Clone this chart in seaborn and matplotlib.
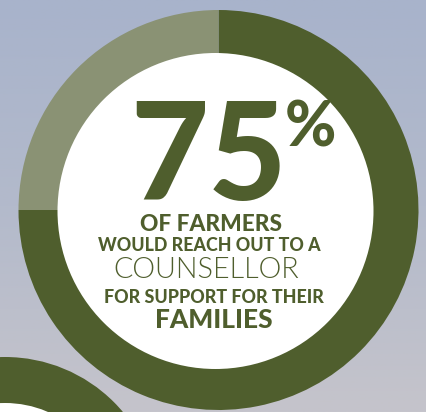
import numpy as np
import matplotlib
matplotlib.use("Agg")
import matplotlib.pyplot as plt
from matplotlib.patches import Circle
from matplotlib.colors import LinearSegmentedColormap
import seaborn as sns

# Share of farmers who would reach out to a counsellor
labels = ["Would reach out", "Would not"]
shares = [75, 25]
headline = "75"
caption_lines = ["OF FARMERS", "WOULD REACH OUT TO A", "COUNSELLOR",
                 "FOR SUPPORT FOR THEIR", "FAMILIES"]

sns.set_theme(style="white")
plt.rcParams["font.family"] = ["Lato", "DejaVu Sans"]

DARK = "#4f5e2d"
LIGHT = "#8a9274"

W, H = 427, 412
fig = plt.figure(figsize=(W / 100, H / 100), dpi=100)
ax = fig.add_axes([0, 0, 1, 1])

# sky-like vertical background gradient
sky = LinearSegmentedColormap.from_list("sky", ["#c5c4cb", "#b3bacb", "#a8b3cb"])
grad = np.linspace(0, 1, 256).reshape(-1, 1)
ax.imshow(grad, cmap=sky, extent=(0, W, 0, H), origin="lower", aspect="auto", zorder=0)

# partial ring peeking in from the lower-left corner
ax.add_patch(Circle((5, H - 511), 154, color=DARK, zorder=1, lw=0))
ax.add_patch(Circle((5, H - 511), 108, color="white", zorder=1.1, lw=0))

# main donut
ax.pie(shares, colors=[DARK, LIGHT], startangle=90, counterclock=False,
       center=(218.5, H - 210), radius=200,
       wedgeprops=dict(width=60, linewidth=0), frame=False)
for w in ax.patches[-2:]:
    w.set_zorder(2)
ax.add_patch(Circle((215.5, H - 211), 158, color="white", zorder=3, lw=0))

ax.set_xlim(0, W)
ax.set_ylim(0, H)
ax.set_aspect("equal")
ax.axis("off")

# centre text: (text, left x, right x, baseline y, cap height px, weight)
specs = [
    (headline, 133, 285, 200, 100, "black"),
    ("%", 285, 335, 146, 46, "black"),
    (caption_lines[0], 134, 288, 231, 15, "black"),
    (caption_lines[1], 92, 326, 251, 12, "black"),
    (caption_lines[2], 106, 307, 278, 19, 300),
    (caption_lines[3], 97, 331, 303, 12, "black"),
    (caption_lines[4], 146, 282, 328, 16, "black"),
]
renderer = fig.canvas.get_renderer()
for txt, x0, x1, y, cap, wt in specs:
    t = ax.text((x0 + x1) / 2, H - y, txt, ha="center", va="baseline",
                fontsize=cap, fontweight=wt, color=DARK, zorder=4)
    # balance the size between the line's width and its cap height
    wpx = t.get_window_extent(renderer).width
    size_w = cap * (x1 - x0) / wpx
    t.set_fontsize(0.5 * (size_w + cap))

fig.savefig("out.png", dpi=100)
